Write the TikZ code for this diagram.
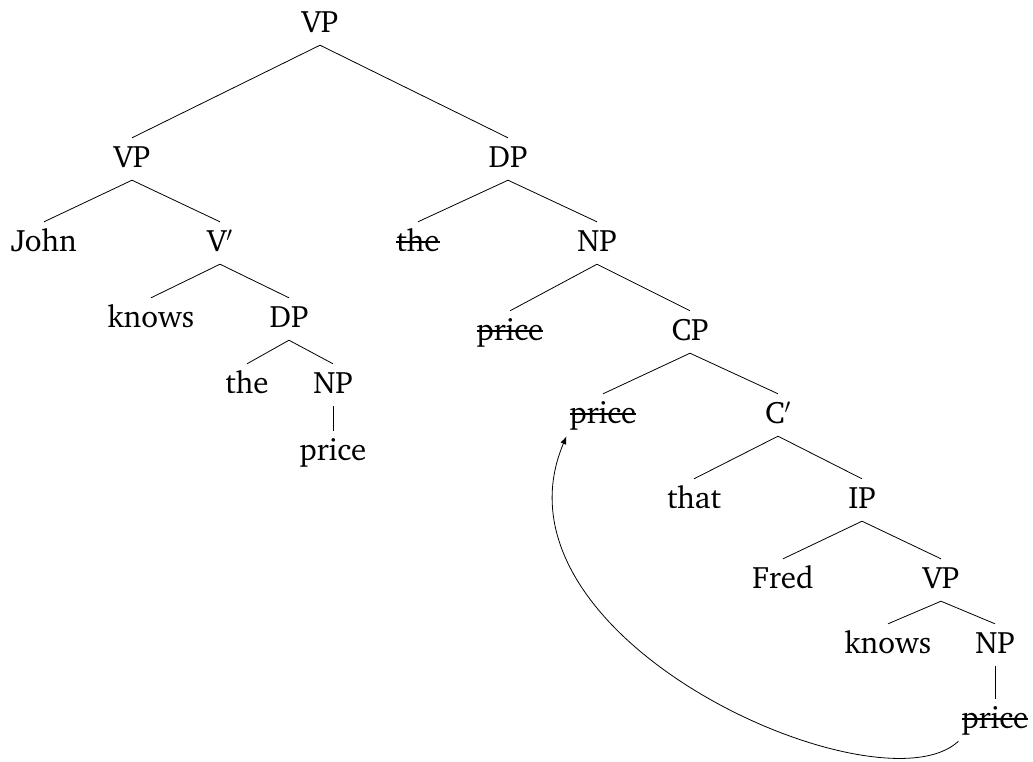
\documentclass[tikz,border=0pt]{standalone}
\usepackage[T1]{fontenc}
\usepackage{charter}
\usetikzlibrary{arrows.meta}
% struck-through word (deleted copy)
\newcommand\gone[1]{\setbox0\hbox{#1}\rlap{\rule[0.27em]{\wd0}{0.065em}}\box0}
\begin{document}
\begin{tikzpicture}[x=1pt,y=-1pt,
  lbl/.style={anchor=base,font=\fontsize{31}{37}\selectfont,
    text height=22pt,text depth=6pt,inner ysep=7pt,inner xsep=3pt},
  branch/.style={line width=0.8pt},
  move/.style={line width=0.8pt,-{Latex[length=8pt,width=6pt]}}]
\useasboundingbox (0,0) rectangle (1033,761);
% labels
\node[lbl] (r) at (320,32) {VP};
\node[lbl] (a) at (132,167) {VP};
\node[lbl] (b) at (508,167) {DP};
\node[lbl] (c) at (44,251) {John};
\node[lbl] (d) at (220,251) {V$'$};
\node[lbl] (e) at (418,251) {\gone{the}};
\node[lbl] (f) at (597,251) {NP};
\node[lbl] (g) at (151,327) {knows};
\node[lbl] (h) at (289,327) {DP};
\node[lbl] (i) at (510,340) {\gone{price}};
\node[lbl] (j) at (690,340) {CP};
\node[lbl] (k) at (247,393) {the};
\node[lbl] (l) at (333,393) {NP};
\node[lbl] (m) at (333,460) {price};
\node[lbl] (n) at (603,423) {\gone{price}};
\node[lbl] (o) at (778,423) {C$'$};
\node[lbl] (p) at (694,508) {that};
\node[lbl] (q) at (862,508) {IP};
\node[lbl] (s) at (783,588) {Fred};
\node[lbl] (t) at (941,588) {VP};
\node[lbl] (u) at (888,653) {knows};
\node[lbl] (v) at (995,653) {NP};
\node[lbl] (w) at (995,728) {\gone{price}};
% branches
\draw[branch] (a.north) -- (r.south) -- (b.north);
\draw[branch] (c.north) -- (a.south) -- (d.north);
\draw[branch] (g.north) -- (d.south) -- (h.north);
\draw[branch] (k.north) -- (h.south) -- (l.north);
\draw[branch] (l.south) -- (m.north);
\draw[branch] (e.north) -- (b.south) -- (f.north);
\draw[branch] (i.north) -- (f.south) -- (j.north);
\draw[branch] (n.north) -- (j.south) -- (o.north);
\draw[branch] (p.north) -- (o.south) -- (q.north);
\draw[branch] (s.north) -- (q.south) -- (t.north);
\draw[branch] (u.north) -- (t.south) -- (v.north);
\draw[branch] (v.south) -- (w.north);
% movement arrow
\draw[move] (w.south west) .. controls (880,815) and (480,640) .. (n.south west);
\end{tikzpicture}
\end{document}
